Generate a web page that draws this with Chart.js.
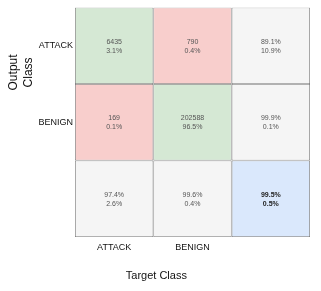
<!DOCTYPE html>
<html>
<head>
<meta charset="utf-8">
<script src="https://cdn.jsdelivr.net/npm/chart.js@4.4.0/dist/chart.umd.min.js"></script>
<style>
  html, body { margin: 0; padding: 0; background: #ffffff; }
  #wrap { width: 321px; height: 291px; }
</style>
</head>
<body>
<div id="wrap"><canvas id="c" width="321" height="291"></canvas></div>
<script>
// ---- data ----
const targetClasses = ['ATTACK', 'BENIGN', ''];
const outputClasses = ['ATTACK', 'BENIGN', ''];
const row0Top = ['6435', '790', '89.1%'];
const row0Bottom = ['3.1%', '0.4%', '10.9%'];
const row1Top = ['169', '202588', '99.9%'];
const row1Bottom = ['0.1%', '96.5%', '0.1%'];
const row2Top = ['97.4%', '99.6%', '99.5%'];
const row2Bottom = ['2.6%', '0.4%', '0.5%'];
const xTitle = 'Target Class';
const yTitle = ['Output', 'Class'];

const rowsTop = [row0Top, row1Top, row2Top];
const rowsBottom = [row0Bottom, row1Bottom, row2Bottom];

const GREEN = '#d5e8d4', RED = '#f8cecc', GRAY = '#f5f5f5', BLUE = '#dae8fc';
const rowColors = [
  [GREEN, RED, GRAY],
  [RED, GREEN, GRAY],
  [GRAY, GRAY, BLUE]
];

const datasets = rowsTop.map((row, r) => ({
  label: outputClasses[r] || 'total',
  data: row.map(() => [r, r + 1]),
  backgroundColor: rowColors[r],
  borderColor: '#7a7a7a',
  borderWidth: 0.8,
  borderSkipped: false,
  inflateAmount: 0,
  grouped: false,
  barPercentage: 1,
  categoryPercentage: 1
}));

const cellText = {
  id: 'cellText',
  afterDatasetsDraw(chart) {
    const ctx = chart.ctx;
    ctx.save();
    ctx.textAlign = 'center';
    ctx.textBaseline = 'middle';
    chart.data.datasets.forEach((ds, r) => {
      const meta = chart.getDatasetMeta(r);
      meta.data.forEach((el, c) => {
        const cx = el.x;
        const cy = (el.y + el.base) / 2;
        const bold = (r === 2 && c === 2);
        ctx.font = (bold ? 'bold ' : '') + '7px "Liberation Sans", Arial, sans-serif';
        ctx.fillStyle = bold ? '#222' : '#555';
        ctx.fillText(rowsTop[r][c], cx, cy - 4);
        ctx.fillText(rowsBottom[r][c], cx, cy + 5);
      });
    });
    ctx.restore();
  }
};

const titles = {
  id: 'titles',
  afterDraw(chart) {
    const ctx = chart.ctx;
    const xs = chart.scales.x, ys = chart.scales.y;
    ctx.save();
    ctx.fillStyle = '#111';
    ctx.font = '11px "Liberation Sans", Arial, sans-serif';
    ctx.textAlign = 'center';
    ctx.textBaseline = 'middle';
    const tx = (xs.getPixelForValue(0) + xs.getPixelForValue(1)) / 2 + 3;
    ctx.fillText(xTitle, tx, chart.height - 15);
    const ty = ys.getPixelForValue(0.85);
    ctx.font = '12px "Liberation Sans", Arial, sans-serif';
    yTitle.forEach((t, i) => {
      ctx.save();
      ctx.translate(14 + i * 15, ty);
      ctx.rotate(-Math.PI / 2);
      ctx.fillText(t, 0, 0);
      ctx.restore();
    });
    ctx.restore();
  }
};

new Chart(document.getElementById('c'), {
  type: 'bar',
  data: { labels: targetClasses, datasets },
  options: {
    responsive: false,
    animation: false,
    layout: { padding: { left: 0, top: 3, right: 11, bottom: 0 } },
    plugins: { legend: { display: false }, tooltip: { enabled: false } },
    scales: {
      x: {
        type: 'category',
        grid: { display: false, drawTicks: false },
        border: { display: false },
        ticks: {
          color: '#111',
          padding: 5,
          font: { family: '"Liberation Sans", Arial, sans-serif', size: 9 },
          maxRotation: 0
        },
        afterFit(s) { s.height = 54; }
      },
      y: {
        type: 'linear',
        min: 0, max: 3,
        reverse: true,
        grid: { display: false, drawTicks: false },
        border: { display: false },
        afterBuildTicks(s) { s.ticks = [{ value: 0.5 }, { value: 1.5 }, { value: 2.5 }]; },
        ticks: {
          color: '#111',
          padding: 2,
          font: { family: '"Liberation Sans", Arial, sans-serif', size: 9 },
          callback: (v) => outputClasses[Math.floor(v)] || ''
        },
        afterFit(s) { s.width = 75; }
      }
    }
  },
  plugins: [cellText, titles]
});
</script>
</body>
</html>
